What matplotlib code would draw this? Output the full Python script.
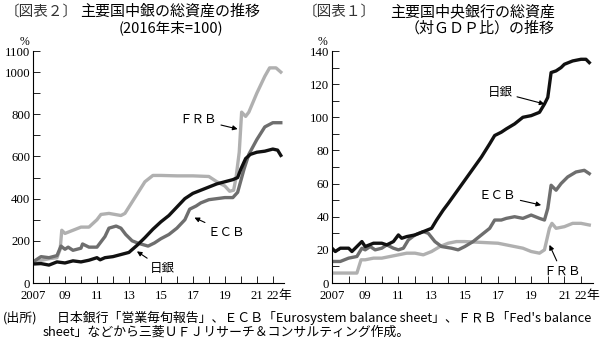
import matplotlib
matplotlib.use("Agg")
import matplotlib.pyplot as plt
import matplotlib.transforms as mtrans
from matplotlib.ticker import MultipleLocator

SERIF = ['Liberation Serif', 'DejaVu Serif', 'Noto Sans CJK JP']
plt.rcParams['font.family'] = SERIF
JP = ['Noto Sans CJK JP', 'DejaVu Sans']

# ---------------- Left chart: index (2016 end = 100) ----------------
frb_idx_x = [2007.0, 2008.0, 2008.5, 2008.7, 2008.8, 2009.0, 2009.5, 2010.0, 2010.5, 2011.0, 2011.25, 2011.75,
             2012.5, 2012.75, 2013.0, 2013.5, 2014.0, 2014.5, 2015.0, 2016.0, 2017.0, 2018.0, 2018.5, 2019.0,
             2019.3, 2019.55, 2019.7, 2019.9, 2020.05, 2020.3, 2020.5, 2021.0, 2021.5, 2021.8, 2022.2, 2022.5]
frb_idx_y = [100, 115, 120, 160, 250, 235, 250, 265, 265, 300, 325, 330,
             320, 330, 360, 420, 480, 510, 510, 508, 508, 505, 480, 460,
             435, 440, 500, 620, 810, 790, 810, 900, 980, 1020, 1020, 1000]

ecb_idx_x = [2007.0, 2007.5, 2008.0, 2008.5, 2008.75, 2009.0, 2009.2, 2009.5, 2010.0, 2010.1, 2010.5, 2011.0,
             2011.2, 2011.5, 2011.75, 2012.2, 2012.5, 2012.8, 2013.2, 2013.6, 2014.2, 2014.6, 2015.0, 2015.5,
             2016.0, 2016.5, 2016.8, 2017.2, 2017.5, 2018.0, 2018.5, 2019.0, 2019.5, 2019.8, 2020.2, 2020.5,
             2021.0, 2021.5, 2022.0, 2022.5]
ecb_idx_y = [100, 125, 120, 130, 175, 160, 170, 155, 165, 185, 170, 170,
             190, 220, 260, 270, 260, 230, 200, 188, 175, 190, 210, 230,
             260, 300, 350, 365, 380, 395, 400, 405, 405, 430, 540, 610,
             680, 740, 760, 760]

boj_idx_x = [2007.0, 2007.5, 2008.0, 2008.5, 2009.0, 2009.5, 2010.0, 2010.5, 2011.0, 2011.2, 2011.5, 2012.0,
             2012.5, 2013.0, 2013.5, 2014.0, 2014.5, 2015.0, 2015.5, 2016.0, 2016.5, 2017.0, 2017.5, 2018.0,
             2018.5, 2019.0, 2019.5, 2019.8, 2020.0, 2020.3, 2020.6, 2021.0, 2021.5, 2022.0, 2022.3, 2022.5]
boj_idx_y = [90, 92, 85, 100, 95, 105, 100, 108, 120, 110, 120, 125,
             135, 145, 178, 215, 255, 290, 320, 360, 400, 425, 440, 455,
             470, 480, 490, 500, 540, 590, 610, 620, 625, 635, 630, 605]

# ---------------- Right chart: % of GDP ----------------
boj_gdp_x = [2007.0, 2007.2, 2007.5, 2008.0, 2008.2, 2008.5, 2008.8, 2009.0, 2009.5, 2010.0, 2010.3, 2010.7,
             2011.0, 2011.2, 2011.5, 2012.0, 2012.5, 2013.0, 2013.3, 2013.7, 2014.0, 2014.5, 2015.0, 2015.5,
             2016.0, 2016.5, 2016.8, 2017.2, 2017.5, 2018.0, 2018.5, 2019.0, 2019.5, 2019.8, 2020.0, 2020.2,
             2020.5, 2020.8, 2021.0, 2021.5, 2022.0, 2022.3, 2022.5]
boj_gdp_y = [21, 19, 21, 21, 19, 22, 25, 22, 24, 24, 23, 25,
             29, 27, 28, 29, 31, 33, 38, 44, 48, 55, 62, 69,
             76, 84, 89, 91, 93, 96, 100, 101, 103, 108, 112, 127,
             128, 130, 132, 134, 135, 135, 133]

ecb_gdp_x = [2007.0, 2007.5, 2008.0, 2008.5, 2008.8, 2009.0, 2009.3, 2009.6, 2010.0, 2010.3, 2010.7, 2011.0,
             2011.3, 2011.6, 2012.0, 2012.5, 2012.8, 2013.2, 2013.6, 2014.2, 2014.6, 2015.0, 2015.5, 2016.0,
             2016.5, 2016.8, 2017.2, 2017.5, 2018.0, 2018.5, 2019.0, 2019.5, 2019.8, 2020.0, 2020.2, 2020.5,
             2020.8, 2021.2, 2021.7, 2022.2, 2022.5]
ecb_gdp_y = [13, 13, 15, 16, 21, 20, 22, 20, 21, 23, 21, 20,
             21, 26, 29, 31, 30, 25, 22, 21, 20, 22, 25, 29,
             33, 38, 38, 39, 40, 39, 41, 39, 38, 45, 59, 56,
             60, 64, 67, 68, 66]

frb_gdp_x = [2007.0, 2008.0, 2008.5, 2008.75, 2009.0, 2009.5, 2010.0, 2010.5, 2011.0, 2011.5, 2012.0, 2012.5,
             2013.0, 2013.5, 2014.0, 2014.5, 2015.0, 2016.0, 2017.0, 2018.0, 2018.5, 2019.0, 2019.5, 2019.8,
             2020.1, 2020.25, 2020.5, 2021.0, 2021.5, 2022.0, 2022.5]
frb_gdp_y = [6, 6, 6, 14, 14, 15, 15, 16, 17, 18, 18, 17,
             19, 22, 24, 25, 25, 24.5, 24, 22, 21, 19, 18, 20,
             33, 36, 33, 34, 36, 36, 35]

year_ticks = [2007, 2009, 2011, 2013, 2015, 2017, 2019, 2021, 2022]
year_labels = ['2007', '09', '11', '13', '15', '17', '19', '21', '22']

C_BOJ = '#111111'
C_ECB = '#6e6e6e'
C_FRB = '#b0b0b0'
LW = 2.4
XPAD = 5.0

fig = plt.figure(figsize=(6.0, 3.41), dpi=100)
axL = fig.add_axes([33/600, 58/341, 251/600, 232/341])
axR = fig.add_axes([332/600, 58/341, 260.6/600, 232/341])

def style(ax, ymax, yminor, ticks):
    ax.set_xlim(2007, 2022.7)
    ax.set_ylim(0, ymax)
    for s in ['top', 'right']:
        ax.spines[s].set_visible(False)
    ax.spines['left'].set_linewidth(0.8)
    ax.spines['bottom'].set_linewidth(0.8)
    ax.set_xticks(year_ticks)
    ax.set_xticklabels(year_labels, fontfamily=SERIF)
    ax.xaxis.set_minor_locator(MultipleLocator(1))
    ax.set_yticks(ticks)
    ax.set_yticklabels([str(t) for t in ticks], fontfamily=SERIF)
    ax.yaxis.set_minor_locator(MultipleLocator(yminor))
    ax.tick_params(axis='both', which='both', direction='in', labelsize=9.2, width=0.7, color='#222222')
    ax.tick_params(axis='both', which='both', length=5)
    ax.tick_params(axis='x', pad=XPAD)
    ax.tick_params(axis='y', pad=2)
    ax.text(-0.035, 1.015, '%', transform=ax.transAxes, ha='center', va='bottom', fontsize=8.5,
            fontfamily=SERIF)
    off = mtrans.ScaledTranslation(0, -(XPAD - 0.5) / 72, fig.dpi_scale_trans)
    ax.text(2022.35, 0, '年', ha='left', va='top', fontsize=9.2, family=JP,
            transform=ax.get_xaxis_transform() + off)

style(axL, 1100, 100, [0, 200, 400, 600, 800, 1000, 1100])
style(axR, 140, 10, [0, 20, 40, 60, 80, 100, 120, 140])

axL.plot(frb_idx_x, frb_idx_y, color=C_FRB, lw=LW, solid_joinstyle='round')
axL.plot(ecb_idx_x, ecb_idx_y, color=C_ECB, lw=LW, solid_joinstyle='round')
axL.plot(boj_idx_x, boj_idx_y, color=C_BOJ, lw=LW, solid_joinstyle='round')

axR.plot(frb_gdp_x, frb_gdp_y, color=C_FRB, lw=LW, solid_joinstyle='round')
axR.plot(ecb_gdp_x, ecb_gdp_y, color=C_ECB, lw=LW, solid_joinstyle='round')
axR.plot(boj_gdp_x, boj_gdp_y, color=C_BOJ, lw=LW, solid_joinstyle='round')

arrow = dict(arrowstyle='-|>', color='black', lw=0.8, mutation_scale=7, shrinkA=1, shrinkB=0)
def label(ax, text, xy, xytext, ha):
    ax.annotate(text, xy=xy, xytext=xytext, ha=ha, va='center', fontsize=9,
                family=JP, arrowprops=arrow)

label(axL, 'ＦＲＢ', (2019.8, 730), (2018.5, 775), 'right')
label(axL, 'ＥＣＢ', (2017.1, 310), (2017.9, 240), 'left')
label(axL, '日銀', (2013.5, 150), (2014.3, 70), 'left')

label(axR, '日銀', (2019.8, 108), (2017.9, 115), 'right')
label(axR, 'ＥＣＢ', (2019.6, 47), (2018.1, 53), 'right')
label(axR, 'ＦＲＢ', (2020.1, 23), (2019.7, 7), 'left')

# titles
fig.text(5/600, 1 - 12/341, '〔図表２〕', fontsize=10.5, family=JP, va='center', ha='left', color='#333333')
fig.text(80/600, 1 - 12/341, '主要国中銀の総資産の推移', fontsize=10.8, family=JP, va='center', ha='left')
fig.text(171/600, 1 - 28/341, '(2016年末=100)', fontsize=10.5, family=JP, va='center', ha='center')

fig.text(303/600, 1 - 12/341, '〔図表１〕', fontsize=10.5, family=JP, va='center', ha='left', color='#333333')
fig.text(390/600, 1 - 12/341, '主要国中央銀行の総資産', fontsize=10.8, family=JP, va='center', ha='left')
fig.text(480/600, 1 - 28/341, '（対ＧＤＰ比）の推移', fontsize=10.8, family=JP, va='center', ha='center')

# source
fig.text(3/600, 1 - 318/341, '(出所)', fontsize=9.3, family=JP, va='center', ha='left')
fig.text(57/600, 1 - 318/341, '日本銀行「営業毎旬報告」、ＥＣＢ「Eurosystem balance sheet」、ＦＲＢ「Fed\'s balance',
         fontsize=9.3, family=JP, va='center', ha='left')
fig.text(43/600, 1 - 332/341, 'sheet」などから三菱ＵＦＪリサーチ＆コンサルティング作成。',
         fontsize=9.3, family=JP, va='center', ha='left')

fig.savefig('out.png', dpi=100)
